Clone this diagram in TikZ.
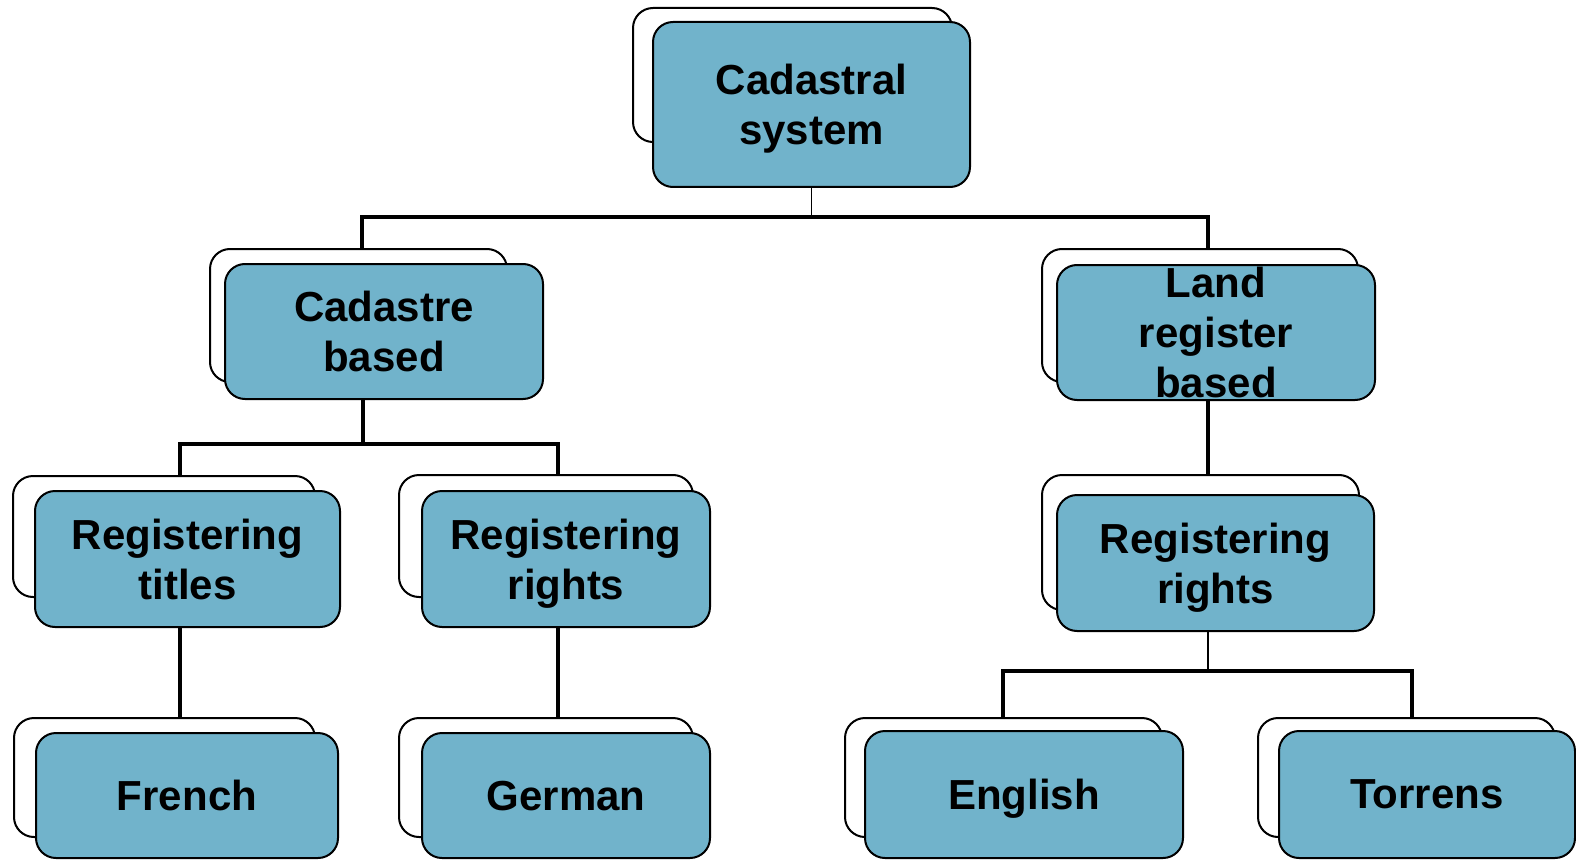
\documentclass[tikz,border=0pt]{standalone}
\usepackage{fontspec}
\setmainfont{Liberation Sans}
\definecolor{boxblue}{RGB}{113,179,203}
\begin{document}
\begin{tikzpicture}[x=1pt,y=-1pt,
  backbox/.style={draw=black,fill=white,line width=2pt,rounded corners=20pt,inner sep=0pt,outer sep=0pt},
  frontbox/.style={draw=black,fill=boxblue,line width=2pt,rounded corners=20pt,inner sep=0pt,outer sep=0pt,
    align=center,font=\fontsize{42}{50}\selectfont\bfseries,text depth=-5pt},
  txt/.style={align=center,font=\fontsize{42}{50}\selectfont\bfseries,inner sep=0pt,text depth=-5pt},
  thinconn/.style={draw=black,line width=1.6pt},
  thickconn/.style={draw=black,line width=3.2pt}]
\useasboundingbox (0,0) rectangle (1576,861);
% top
\node[backbox,minimum width=319pt,minimum height=134pt] (topb) at (792.5,75) {};
\node[frontbox,minimum width=317pt,minimum height=165pt] (top) at (811.5,104.5) {Cadastral\\system};
% cadastre based
\node[backbox,minimum width=297pt,minimum height=133pt] (cadb) at (358.5,315.5) {};
\node[frontbox,minimum width=318pt,minimum height=135pt] (cad) at (384,331.5) {Cadastre\\based};
% land register based
\node[backbox,minimum width=316pt,minimum height=133pt] (landb) at (1200,315.5) {};
\node[frontbox,minimum width=318pt,minimum height=135pt] (land) at (1216,332.5) {};
\node[txt] (landtxt) at (land.center) {Land\\register\\based};
% registering titles
\node[backbox,minimum width=302pt,minimum height=121pt] (titlesb) at (164,536.5) {};
\node[frontbox,minimum width=305pt,minimum height=136pt] (titles) at (187.5,559) {Registering\\titles};
% registering rights (left)
\node[backbox,minimum width=294pt,minimum height=122pt] (rlb) at (546,536) {};
\node[frontbox,minimum width=288pt,minimum height=136pt] (rl) at (566,559) {Registering\\rights};
% registering rights (right)
\node[backbox,minimum width=317pt,minimum height=135pt] (rrb) at (1200.5,542.5) {};
\node[frontbox,minimum width=317pt,minimum height=136pt] (rr) at (1215.5,563) {Registering\\rights};
% French
\node[backbox,minimum width=301pt,minimum height=119pt] (frenchb) at (164.5,777.5) {};
\node[frontbox,minimum width=302pt,minimum height=125pt] (french) at (187,795.5) {French};
% German
\node[backbox,minimum width=294pt,minimum height=119pt] (germanb) at (546,777.5) {};
\node[frontbox,minimum width=288pt,minimum height=125pt] (german) at (566,795.5) {German};
% English
\node[backbox,minimum width=317pt,minimum height=119pt] (englishb) at (1003.5,777.5) {};
\node[frontbox,minimum width=318pt,minimum height=127pt] (english) at (1024,794.5) {English};
% Torrens
\node[backbox,minimum width=297pt,minimum height=119pt] (torrensb) at (1406.5,777.5) {};
\node[frontbox,minimum width=296pt,minimum height=127pt] (torrens) at (1427,794.5) {Torrens};
% junctions
\coordinate (h1L) at (362,217);
\coordinate (h1R) at (1208,217);
\coordinate (s2) at (363,444);
\coordinate (h2L) at (180,444);
\coordinate (h2R) at (558,444);
\coordinate (h3L) at (1003,671);
\coordinate (h3R) at (1412,671);
% connectors
\draw[thinconn] (top.south) -- (top.south |- h1L);
\draw[thickconn] (h1L |- cadb.north) -- (h1L) -- (h1R) -- (h1R |- landb.north);
\draw[thickconn] (s2 |- cad.south) -- (s2);
\draw[thickconn] (h2L |- titlesb.north) -- (h2L) -- (h2R) -- (h2R |- rlb.north);
\draw[thickconn] (h2L |- titles.south) -- (h2L |- frenchb.north);
\draw[thickconn] (h2R |- rl.south) -- (h2R |- germanb.north);
\draw[thickconn] (h1R |- land.south) -- (h1R |- rrb.north);
\draw[thinconn] (h1R |- rr.south) -- (h1R |- h3L);
\draw[thickconn] (h3L |- englishb.north) -- (h3L) -- (h3R) -- (h3R |- torrensb.north);
\end{tikzpicture}
\end{document}
